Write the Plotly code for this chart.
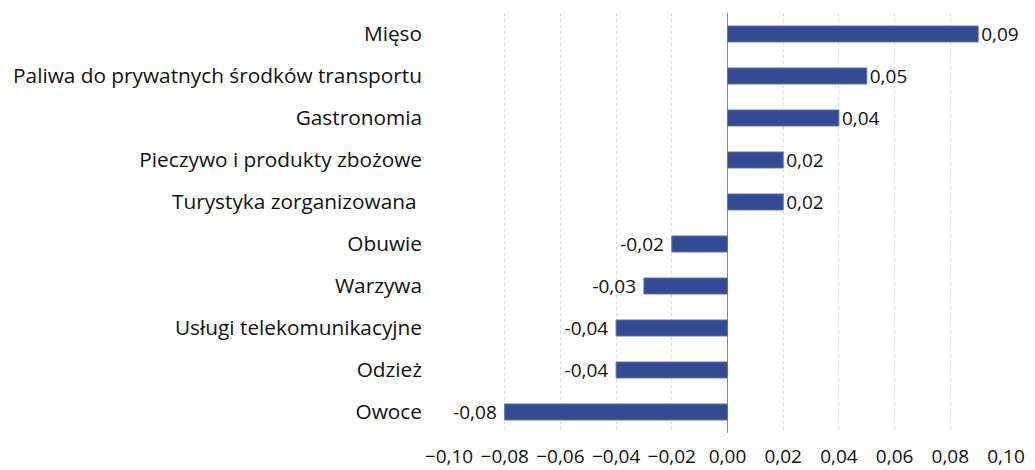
import plotly.graph_objects as go

categories = ["Mięso", "Paliwa do prywatnych środków transportu", "Gastronomia",
              "Pieczywo i produkty zbożowe", "Turystyka zorganizowana\u00a0", "Obuwie",
              "Warzywa", "Usługi telekomunikacyjne", "Odzież", "Owoce"]
values = [0.09, 0.05, 0.04, 0.02, 0.02, -0.02, -0.03, -0.04, -0.04, -0.08]
tick_vals = [-0.10, -0.08, -0.06, -0.04, -0.02, 0.0, 0.02, 0.04, 0.06, 0.08, 0.10]

FONT = "Open Sans"
templates = ["%{x:.2f}" if v >= 0 else "%{x:.2f}\u00a0" for v in values]

fig = go.Figure(go.Bar(
    y=categories, x=values, orientation="h",
    marker=dict(color="#334A95", line=dict(color="#5A6FB5", width=1)),
    width=0.38,
    texttemplate=templates, textposition="outside", constraintext="none",
    textfont=dict(family=FONT, size=19, color="#111"),
    cliponaxis=False,
))
fig.update_layout(
    width=1035, height=470,
    margin=dict(l=433, r=37, t=5, b=45),
    plot_bgcolor="white", paper_bgcolor="white",
    separators=", ",
    showlegend=False,
    font=dict(family=FONT, size=19, color="#111"),
    xaxis=dict(range=[-0.10, 0.10], tickvals=tick_vals, tickformat=".2f",
               showgrid=True, gridcolor="#D9D9D9", griddash="dot", gridwidth=1,
               zeroline=True, zerolinecolor="#8C8C8C", zerolinewidth=1,
               showline=False, ticks="", tickfont=dict(size=19), ticklabelstandoff=10,
               ticklabeloverflow="allow"),
    yaxis=dict(autorange="reversed", showgrid=False, showline=False, ticks="",
               tickfont=dict(size=20.8), ticklabelstandoff=26),
)
fig.write_html("out.html", config={"displayModeBar": False})
